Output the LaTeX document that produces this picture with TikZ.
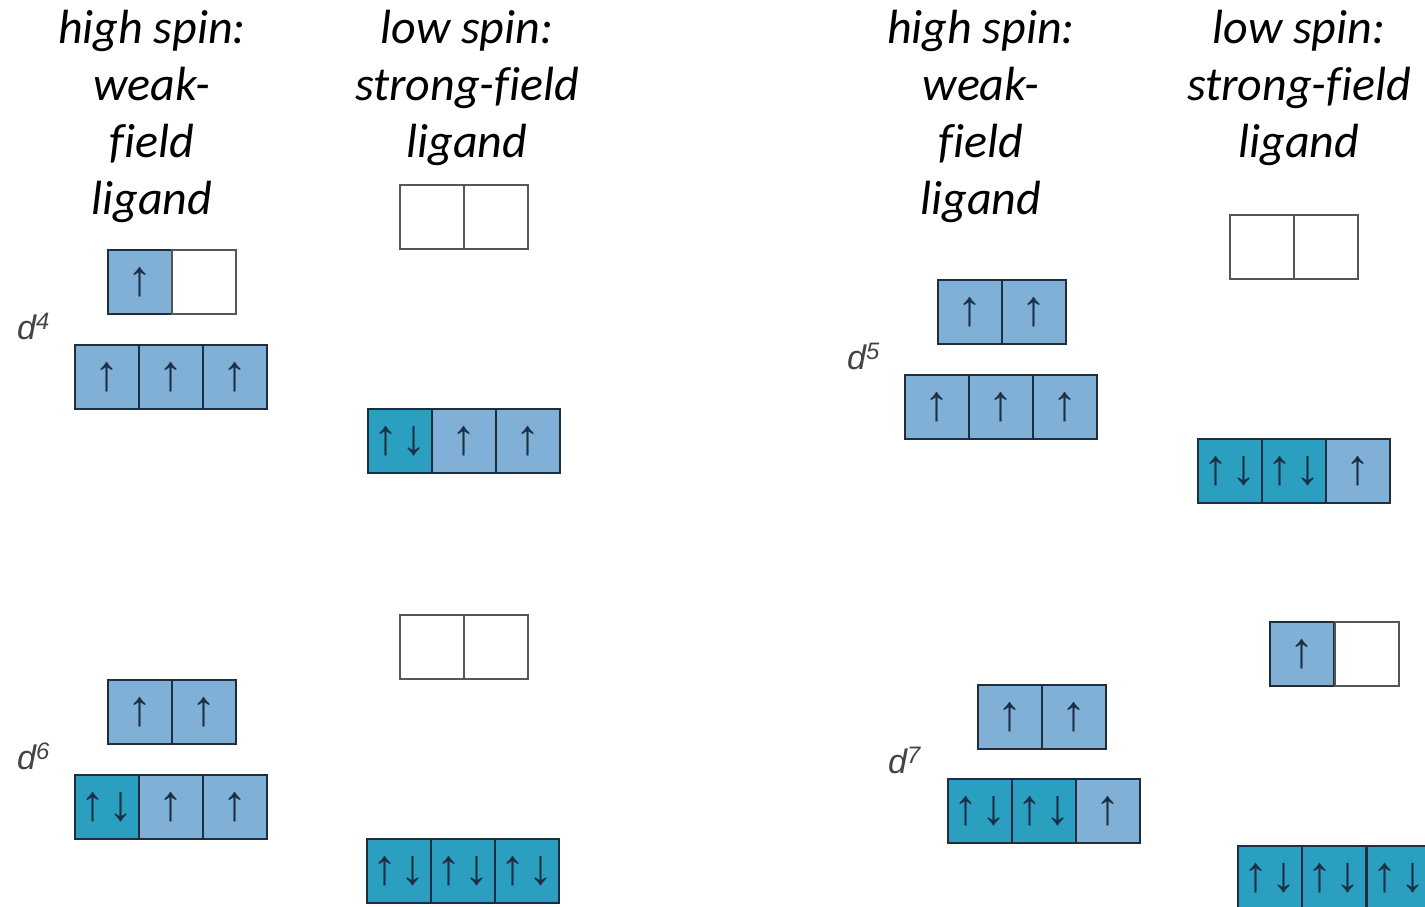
\documentclass[tikz,border=0pt]{standalone}
\usepackage{fontspec}
\setmainfont{Carlito}[Ligatures=NoCommon]
\newfontfamily\dfont{Liberation Sans}
\newfontfamily\arrfont{Liberation Sans}
\definecolor{lightcell}{HTML}{80B0D6}
\definecolor{darkcell}{HTML}{2B9FC0}
\definecolor{edge}{HTML}{1E2E3E}
\definecolor{emptyedge}{HTML}{555555}
\definecolor{arrowcol}{HTML}{1C2F45}
\definecolor{labelcol}{HTML}{444444}
\newcommand\oneup{↑}
\newcommand\updown{↑\kern3.5pt↓}
\tikzset{
  cellbase/.style={line width=1.5pt, minimum width=64pt, minimum height=64pt, inner sep=0pt, anchor=north west,
    text=arrowcol, font=\fontsize{50}{50}\selectfont\arrfont},
  half/.style={cellbase, draw=edge, fill=lightcell},
  full/.style={cellbase, draw=edge, fill=darkcell},
  empty/.style={cellbase, draw=emptyedge, fill=white},
  header/.style={align=center, inner sep=0pt, anchor=north, font=\fontsize{48}{57}\selectfont\itshape},
  dlabel/.style={inner sep=0pt, anchor=base west, text=labelcol, font=\fontsize{34}{34}\selectfont\dfont\itshape}
}
\begin{document}
\begin{tikzpicture}[x=1pt,y=-1pt]
\useasboundingbox (0,0) rectangle (1425,906);
\clip (0,0) rectangle (1425,906);
% headers
\node[header] (h1) at (152,10) {high spin:\\weak-\\field\\ligand};
\node[header] (h2) at (467,10) {low spin:\\strong-field\\ligand};
\node[header] (h3) at (981,10) {high spin:\\weak-\\field\\ligand};
\node[header] (h4) at (1299,10) {low spin:\\strong-field\\ligand};
% d4 high spin
\node[half]  (a1) at (107,249) {\oneup};
\node[empty] (a2) at (171,249) {};
\node[half]  (a3) at (74,344) {\oneup};
\node[half]  (a4) at (138,344) {\oneup};
\node[half]  (a5) at (202,344) {\oneup};
\node[dlabel] (d4) at (17,339) {d\textsuperscript{4}};
% d4 low spin
\node[empty] (b1) at (399,184) {};
\node[empty] (b2) at (463,184) {};
\node[full]  (b3) at (367,408) {\updown};
\node[half]  (b4) at (431,408) {\oneup};
\node[half]  (b5) at (495,408) {\oneup};
% d6 high spin
\node[half]  (c1) at (107,679) {\oneup};
\node[half]  (c2) at (171,679) {\oneup};
\node[full]  (c3) at (74,774) {\updown};
\node[half]  (c4) at (138,774) {\oneup};
\node[half]  (c5) at (202,774) {\oneup};
\node[dlabel] (d6) at (17,769) {d\textsuperscript{6}};
% d6 low spin
\node[empty] (e1) at (399,614) {};
\node[empty] (e2) at (463,614) {};
\node[full]  (e3) at (366,838) {\updown};
\node[full]  (e4) at (430,838) {\updown};
\node[full]  (e5) at (494,838) {\updown};
% d5 high spin
\node[half]  (f1) at (937,279) {\oneup};
\node[half]  (f2) at (1001,279) {\oneup};
\node[half]  (f3) at (904,374) {\oneup};
\node[half]  (f4) at (968,374) {\oneup};
\node[half]  (f5) at (1032,374) {\oneup};
\node[dlabel] (d5) at (847,369) {d\textsuperscript{5}};
% d5 low spin
\node[empty] (g1) at (1229,214) {};
\node[empty] (g2) at (1293,214) {};
\node[full]  (g3) at (1197,438) {\updown};
\node[full]  (g4) at (1261,438) {\updown};
\node[half]  (g5) at (1325,438) {\oneup};
% d7 high spin
\node[half]  (k1) at (977,684) {\oneup};
\node[half]  (k2) at (1041,684) {\oneup};
\node[full]  (k3) at (947,778) {\updown};
\node[full]  (k4) at (1011,778) {\updown};
\node[half]  (k5) at (1075,778) {\oneup};
\node[dlabel] (d7) at (888,773) {d\textsuperscript{7}};
% d7 low spin
\node[half]  (m1) at (1269,621) {\oneup};
\node[empty] (m2) at (1334,621) {};
\node[full]  (m3) at (1237,845) {\updown};
\node[full]  (m4) at (1301,845) {\updown};
\node[full]  (m5) at (1366,845) {\updown};
\end{tikzpicture}
\end{document}
